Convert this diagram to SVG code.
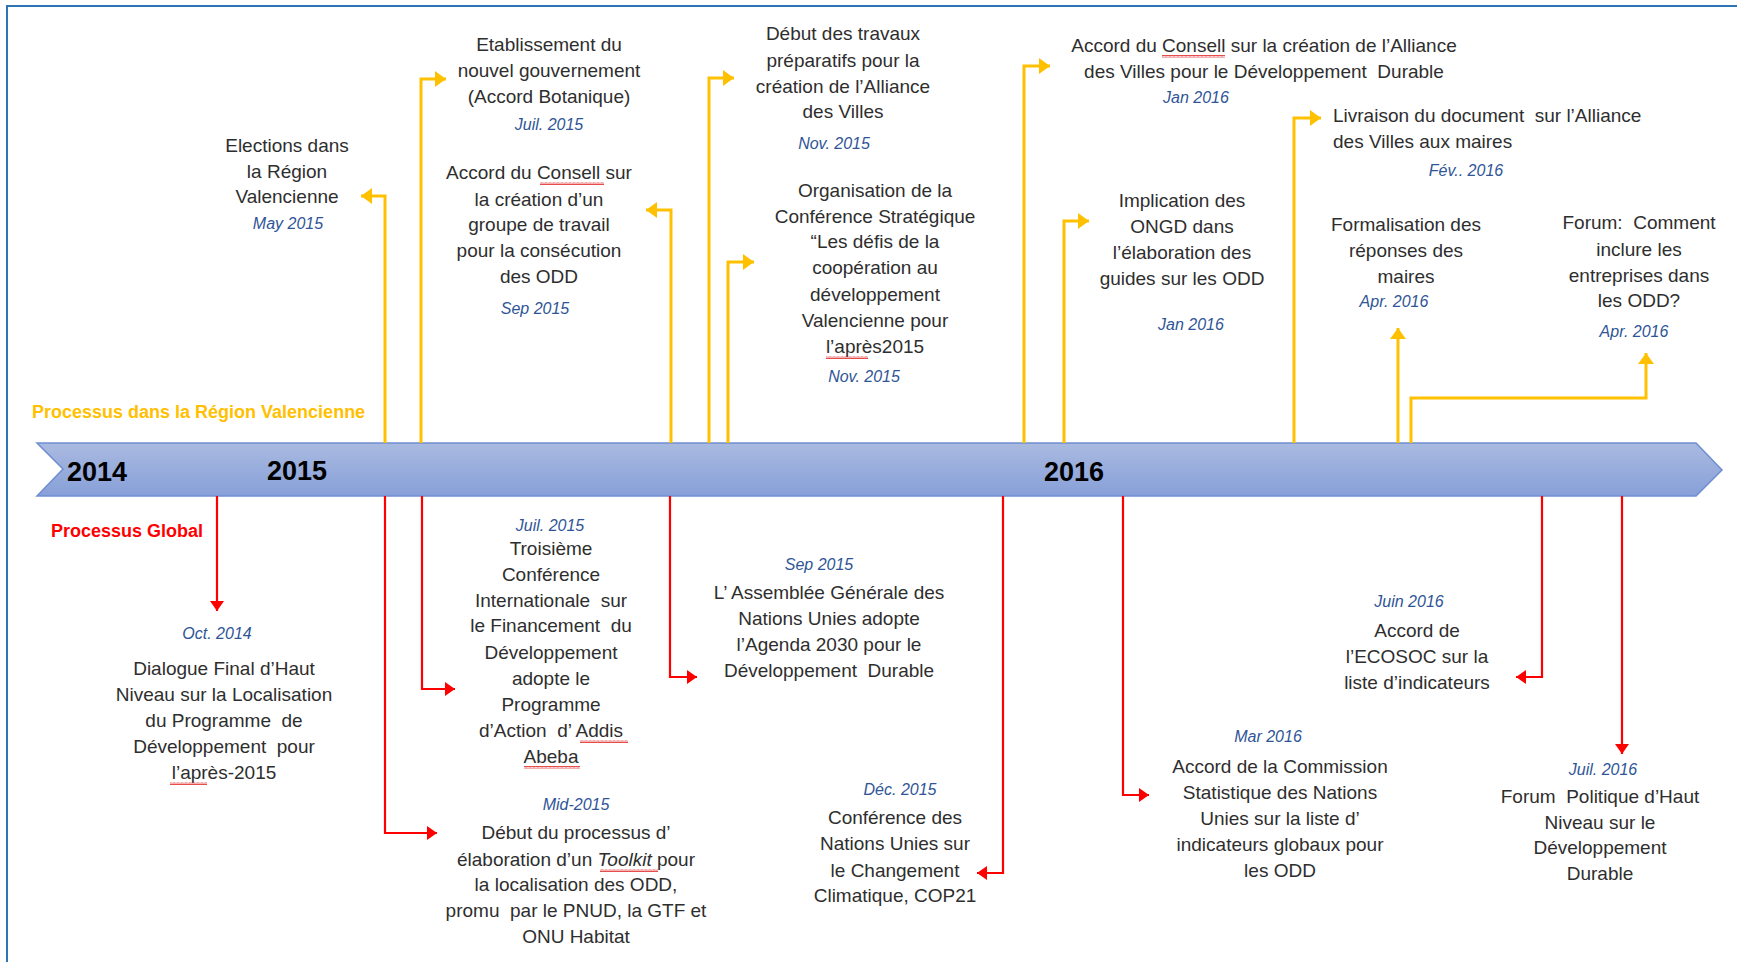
<svg xmlns="http://www.w3.org/2000/svg" width="1737" height="962" viewBox="0 0 1737 962">
<style>
.t{font-family:"Liberation Sans",Arial,sans-serif;font-size:19px;fill:#2E2E2E;text-anchor:middle}
.l{text-anchor:start}
.d{font-family:"Liberation Sans",Arial,sans-serif;font-size:16px;font-style:italic;fill:#2F5597;text-anchor:middle}
.yr{font-family:"Liberation Sans",Arial,sans-serif;font-size:27px;font-weight:bold;fill:#000;text-anchor:middle}
.ttl{font-family:"Liberation Sans",Arial,sans-serif;font-size:18px;font-weight:bold}
.y{stroke:#FFC000;stroke-width:3;fill:none;marker-end:url(#ay)}
.r{stroke:#FF0000;stroke-width:2.2;fill:none;marker-end:url(#ar)}
.sq{fill:url(#sq)}
</style>
<defs>
<linearGradient id="band" x1="0" y1="0" x2="0" y2="1">
<stop offset="0" stop-color="#AABAE1"/>
<stop offset="1" stop-color="#87A0D8"/>
</linearGradient>
<marker id="ay" markerUnits="userSpaceOnUse" markerWidth="12" markerHeight="16" viewBox="0 0 12 16" refX="11" refY="8" orient="auto">
<path d="M0,0 L11,8 L0,16 z" fill="#FFC000"/>
</marker>
<marker id="ar" markerUnits="userSpaceOnUse" markerWidth="11" markerHeight="14" viewBox="0 0 11 14" refX="10" refY="7" orient="auto">
<path d="M0,0 L10,7 L0,14 z" fill="#FF0000"/>
</marker>
<pattern id="sq" width="4" height="3" patternUnits="userSpaceOnUse">
<path d="M0,2.5 L1,0.5 L2,2.5 L3,0.5 L4,2.5" stroke="#E02020" stroke-width="0.8" fill="none"/>
</pattern>
</defs>
<rect x="0" y="0" width="1737" height="962" fill="#fff"/>
<rect x="7" y="6" width="1745" height="975" fill="none" stroke="#2E75B6" stroke-width="2"/>

<g id="timeline">
<path d="M37,443 H1696 L1722,470 L1696,496 H37 L63,469 Z" fill="url(#band)" stroke="#6F8ED1" stroke-width="1.5"/>
<text class="yr" x="97" y="481">2014</text>
<text class="yr" x="297" y="480">2015</text>
<text class="yr" x="1074" y="481">2016</text>
</g>

<g id="titles">
<text class="ttl" x="32" y="418" fill="#FFC000">Processus dans la Région Valencienne</text>
<text class="ttl" x="51" y="537" fill="#FF0000">Processus Global</text>
</g>

<g id="connectors">
<path class="y" d="M385,443 V196 H361"/>
<path class="y" d="M421,443 V79 H446"/>
<path class="y" d="M671,443 V210 H646"/>
<path class="y" d="M709,443 V78 H734"/>
<path class="y" d="M728,443 V262 H754"/>
<path class="y" d="M1024,443 V66 H1050"/>
<path class="y" d="M1064,443 V221 H1089"/>
<path class="y" d="M1294,443 V118 H1321"/>
<path class="y" d="M1398,443 V328"/>
<path class="y" d="M1411,443 V398 H1646 V353"/>
<path class="r" d="M217,496 V611"/>
<path class="r" d="M385,496 V833 H437"/>
<path class="r" d="M422,496 V689 H455"/>
<path class="r" d="M670,496 V677 H697"/>
<path class="r" d="M1003,496 V873 H977"/>
<path class="r" d="M1123,496 V795 H1149"/>
<path class="r" d="M1542,496 V677 H1516"/>
<path class="r" d="M1622,496 V754"/>
</g>

<g id="n-elections">
<text class="t"><tspan x="287" y="152">Elections dans</tspan><tspan x="287" y="178">la Région</tspan><tspan x="287" y="203">Valencienne</tspan></text>
<text class="d" x="288" y="229">May 2015</text>
</g>
<g id="n-gouvernement">
<text class="t"><tspan x="549" y="51">Etablissement du</tspan><tspan x="549" y="77">nouvel gouvernement</tspan><tspan x="549" y="103">(Accord Botanique)</tspan></text>
<text class="d" x="549" y="130">Juil. 2015</text>
</g>
<g id="n-groupe">
<text class="t"><tspan x="539" y="179">Accord du Consell sur</tspan><tspan x="539" y="206">la création d’un</tspan><tspan x="539" y="231">groupe de travail</tspan><tspan x="539" y="257">pour la consécution</tspan><tspan x="539" y="283">des ODD</tspan></text>
<rect class="sq" x="540" y="182" width="64" height="3"/>
<text class="d" x="535" y="314">Sep 2015</text>
</g>
<g id="n-travaux">
<text class="t"><tspan x="843" y="40">Début des travaux</tspan><tspan x="843" y="67">préparatifs pour la</tspan><tspan x="843" y="93">création de l’Alliance</tspan><tspan x="843" y="118">des Villes</tspan></text>
<text class="d" x="834" y="149">Nov. 2015</text>
</g>
<g id="n-conference">
<text class="t"><tspan x="875" y="197">Organisation de la</tspan><tspan x="875" y="223">Conférence Stratégique</tspan><tspan x="875" y="248">“Les défis de la</tspan><tspan x="875" y="274">coopération au</tspan><tspan x="875" y="301">développement</tspan><tspan x="875" y="327">Valencienne pour</tspan><tspan x="875" y="353">l’après2015</tspan></text>
<rect class="sq" x="826" y="356" width="42" height="3"/>
<text class="d" x="864" y="382">Nov. 2015</text>
</g>
<g id="n-alliance">
<text class="t" xml:space="preserve"><tspan x="1264" y="52">Accord du Consell sur la création de l’Alliance</tspan><tspan x="1264" y="78">des Villes pour le Développement  Durable</tspan></text>
<rect class="sq" x="1162" y="55" width="63" height="3"/>
<text class="d" x="1196" y="103">Jan 2016</text>
</g>
<g id="n-ongd">
<text class="t"><tspan x="1182" y="207">Implication des</tspan><tspan x="1182" y="233">ONGD dans</tspan><tspan x="1182" y="259">l’élaboration des</tspan><tspan x="1182" y="285">guides sur les ODD</tspan></text>
<text class="d" x="1191" y="330">Jan 2016</text>
</g>
<g id="n-livraison">
<text class="t l" xml:space="preserve"><tspan x="1333" y="122">Livraison du document  sur l’Alliance</tspan><tspan x="1333" y="148">des Villes aux maires</tspan></text>
<text class="d" x="1466" y="176">Fév.. 2016</text>
</g>
<g id="n-formalisation">
<text class="t"><tspan x="1406" y="231">Formalisation des</tspan><tspan x="1406" y="257">réponses des</tspan><tspan x="1406" y="283">maires</tspan></text>
<text class="d" x="1394" y="307">Apr. 2016</text>
</g>
<g id="n-forum-entreprises">
<text class="t" xml:space="preserve"><tspan x="1639" y="229">Forum:  Comment</tspan><tspan x="1639" y="256">inclure les</tspan><tspan x="1639" y="282">entreprises dans</tspan><tspan x="1639" y="307">les ODD?</tspan></text>
<text class="d" x="1634" y="337">Apr. 2016</text>
</g>

<g id="n-dialogue">
<text class="d" x="217" y="639">Oct. 2014</text>
<text class="t" xml:space="preserve"><tspan x="224" y="675">Dialogue Final d’Haut</tspan><tspan x="224" y="701">Niveau sur la Localisation</tspan><tspan x="224" y="727">du Programme  de</tspan><tspan x="224" y="753">Développement  pour</tspan><tspan x="224" y="779">l’après-2015</tspan></text>
<rect class="sq" x="170" y="782" width="37" height="3"/>
</g>
<g id="n-addis">
<text class="d" x="550" y="531">Juil. 2015</text>
<text class="t" xml:space="preserve"><tspan x="551" y="555">Troisième</tspan><tspan x="551" y="581">Conférence</tspan><tspan x="551" y="607">Internationale  sur</tspan><tspan x="551" y="632">le Financement  du</tspan><tspan x="551" y="659">Développement</tspan><tspan x="551" y="685">adopte le</tspan><tspan x="551" y="711">Programme</tspan><tspan x="551" y="737">d’Action  d’ Addis</tspan><tspan x="551" y="763">Abeba</tspan></text>
<rect class="sq" x="580" y="740" width="48" height="3"/>
<rect class="sq" x="524" y="766" width="56" height="3"/>
</g>
<g id="n-toolkit">
<text class="d" x="576" y="810">Mid-2015</text>
<text class="t" xml:space="preserve"><tspan x="576" y="839">Début du processus d’</tspan><tspan x="576" y="866">élaboration d’un <tspan font-style="italic">Toolkit</tspan> pour</tspan><tspan x="576" y="891">la localisation des ODD,</tspan><tspan x="576" y="917">promu  par le PNUD, la GTF et</tspan><tspan x="576" y="943">ONU Habitat</tspan></text>
<rect class="sq" x="600" y="869" width="58" height="3"/>
</g>
<g id="n-agenda">
<text class="d" x="819" y="570">Sep 2015</text>
<text class="t" xml:space="preserve"><tspan x="829" y="599">L’ Assemblée Générale des</tspan><tspan x="829" y="625">Nations Unies adopte</tspan><tspan x="829" y="651">l’Agenda 2030 pour le</tspan><tspan x="829" y="677">Développement  Durable</tspan></text>
</g>
<g id="n-cop21">
<text class="d" x="900" y="795">Déc. 2015</text>
<text class="t"><tspan x="895" y="824">Conférence des</tspan><tspan x="895" y="850">Nations Unies sur</tspan><tspan x="895" y="877">le Changement</tspan><tspan x="895" y="902">Climatique, COP21</tspan></text>
</g>
<g id="n-statistique">
<text class="d" x="1268" y="742">Mar 2016</text>
<text class="t"><tspan x="1280" y="773">Accord de la Commission</tspan><tspan x="1280" y="799">Statistique des Nations</tspan><tspan x="1280" y="825">Unies sur la liste d’</tspan><tspan x="1280" y="851">indicateurs globaux pour</tspan><tspan x="1280" y="877">les ODD</tspan></text>
</g>
<g id="n-ecosoc">
<text class="d" x="1409" y="607">Juin 2016</text>
<text class="t"><tspan x="1417" y="637">Accord de</tspan><tspan x="1417" y="663">l’ECOSOC sur la</tspan><tspan x="1417" y="689">liste d’indicateurs</tspan></text>
</g>
<g id="n-forum-politique">
<text class="d" x="1603" y="775">Juil. 2016</text>
<text class="t" xml:space="preserve"><tspan x="1600" y="803">Forum  Politique d’Haut</tspan><tspan x="1600" y="829">Niveau sur le</tspan><tspan x="1600" y="854">Développement</tspan><tspan x="1600" y="880">Durable</tspan></text>
</g>
</svg>
